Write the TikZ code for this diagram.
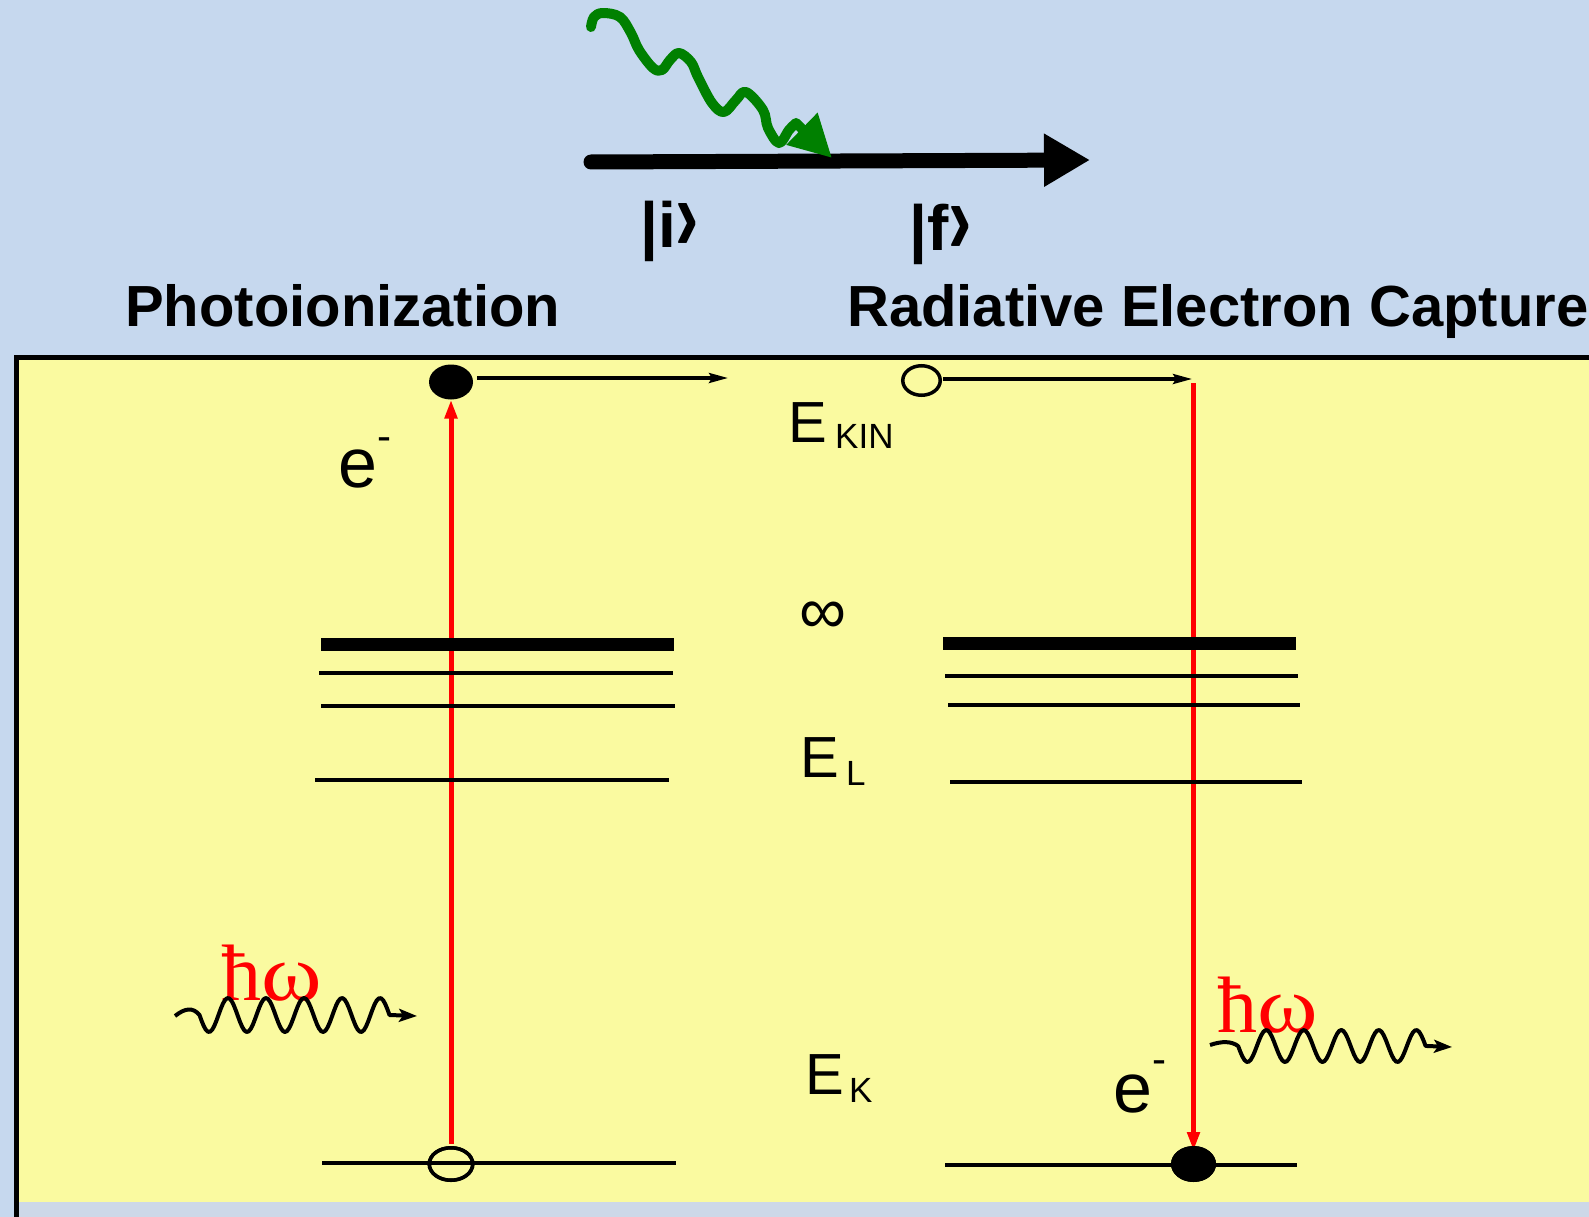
\documentclass[tikz,border=0pt]{standalone}
\usepackage{fontspec}
\setmainfont{Liberation Sans}
\newfontfamily\hbarfont{Liberation Serif}
\usetikzlibrary{arrows.meta,shapes.geometric}
\newcommand{\fsz}[1]{\fontsize{#1}{#1}\selectfont}
\newcommand{\chev}{\raisebox{-3pt}{\scalebox{1.1}[1.6]{›}}}
\newcommand{\hbaromega}{ħ\scalebox{1.15}[1]{ω}}
\definecolor{skyblue}{RGB}{198,216,238}
\definecolor{padyellow}{RGB}{250,250,160}
\definecolor{stripblue}{RGB}{205,216,232}
\definecolor{wavegreen}{RGB}{0,128,0}

\begin{document}
\begin{tikzpicture}[x=1pt, y=-1pt,
    txt/.style={inner sep=0pt, anchor=base west},
    title/.style={txt, font=\fsz{58}\bfseries},
    ket/.style={txt, font=\fsz{64}\bfseries},
    elabel/.style={txt, font=\fsz{58}},
    sublabel/.style={txt, font=\fsz{35}},
    minus/.style={txt, font=\fsz{42}},
    hw/.style={txt, font=\hbarfont\fsz{80}, text=red},
    level/.style={line width=4pt},
    contin/.style={line width=13pt},
    elec/.style={ellipse, fill=black, inner sep=0pt, outer sep=0pt},
    hole/.style={ellipse, draw=black, line width=3.5pt, inner sep=0pt, outer sep=0pt},
    kin/.style={line width=3.3pt, -{Stealth[length=19pt,width=10pt,inset=3pt]}},
    trans/.style={red, line width=5pt, -{Triangle[length=19pt,width=12pt]}},
    photon/.style={line width=4pt, line join=round, -{Stealth[length=18pt,width=13pt,inset=4pt]}},
  ]
    % background and panel
    \fill[skyblue] (0,0) rectangle (1589,1217);
    \useasboundingbox (0,0) rectangle (1589,1217);
    \fill[padyellow] (16,357.5) rectangle (1589,1202);
    \fill[stripblue] (16,1202) rectangle (1589,1217);
    \draw[line width=5pt] (16,1217) -- (16,357.5) -- (1589,357.5);

    % time line |i> -> |f>
    \coordinate (tstart) at (591,162);
    \coordinate (tend)   at (1090,160);
    \draw[line width=15pt, line cap=round, -{Triangle[length=46pt,width=50pt]}] (tstart) -- (tend);
    \draw[wavegreen, line width=10pt, line cap=round, line join=round,
          -{Triangle[length=42pt,width=42pt]}]
      plot[smooth, tension=0.6] coordinates {(591,27) (594,17) (603,13) (620,17) (631,33)
        (639,50) (653,68) (662,70) (670,60) (679,53) (691,62) (698,77) (712,103)
        (724,112) (736,100) (746,92) (763,110) (768,128) (779,143) (789,130) (796,123)}
      -- (832,158);
    \node[ket] (ini) at (640,247) {|i\chev};
    \node[ket] (fin) at (909,250) {|f\chev};

    \node[title] (pi)  at (125,326) {Photoionization};
    \node[title] (rec) at (847,326) {Radiative Electron Capture};

    % red transitions
    \node[hole, minimum width=43.5pt, minimum height=32.5pt] (vacK) at (451,1164) {};
    \node[elec, minimum width=44pt, minimum height=35pt] (ion) at (451,382) {};
    \coordinate (kinL) at (728,378);
    \node[hole, minimum width=37.5pt, minimum height=29.5pt] (capt) at (921.5,380.5) {};
    \coordinate (kinR) at (1192,379);
    \coordinate (capR) at (1193.5,383);
    \node[elec, minimum width=45pt, minimum height=36pt] (bound) at (1193.5,1164) {};

    \draw[trans, shorten <=4pt] (vacK.north) -- (ion.south);
    \draw[trans, shorten >=-5pt] (capR) -- (bound.north);

    % levels, photoionization
    \draw[contin] (321,644.5) -- (674,644.5);
    \draw[level] (319,673) -- (673,673);
    \draw[level] (321,706) -- (675,706);
    \draw[level] (315,780) -- (669,780);
    \draw[level] (322,1163) -- (676,1163);
    % levels, capture
    \draw[contin] (943,643) -- (1296,643);
    \draw[level] (945,676) -- (1298,676);
    \draw[level] (948,705) -- (1300,705);
    \draw[level] (950,782) -- (1302,782);
    \draw[level] (945,1165) -- (1297,1165);

    \node[hole, minimum width=43.5pt, minimum height=32.5pt] at (vacK) {};
    \node[elec, minimum width=45pt, minimum height=36pt] at (bound) {};

    \draw[kin, shorten <=4pt] (ion.east |- kinL) -- (kinL);
    \draw[kin, shorten <=3pt] (capt.east |- kinR) -- (kinR);

    % energy labels
    \node[elabel] (ekin) at (788,442) {E};
    \node[sublabel] at (835,448) {KIN};
    \node[inner sep=0pt, font=\fsz{66}] (inf) at (823,618) {∞};
    \node[elabel] (el) at (800,777) {E};
    \node[sublabel] at (846,785) {L};
    \node[elabel] (ek) at (805,1094) {E};
    \node[sublabel] at (849,1102) {K};

    \node[txt, font=\fsz{70}] (eL) at (338,487) {e};
    \node[minus] at (377,450) {-};
    \node[txt, font=\fsz{70}] (eR) at (1113,1112) {e};
    \node[minus] at (1152,1073) {-};

    % photons
    \node[hw] (hwL) at (221,1000) {\hbaromega};
    \node[hw] (hwR) at (1217,1032) {\hbaromega};
    \draw[photon] (175,1016) .. controls (185,1008) and (193,1007) .. (199.5,1015)
      -- plot[domain=199.5:389.5, samples=90] (\x,{1015+17*cos(9.4737*(\x-209))})
      -- (417,1016);
    \draw[photon] (1210,1045) .. controls (1222,1041) and (1231,1041) .. (1238.1,1046)
      -- plot[domain=1238.1:1425.6, samples=90] (\x,{1046+16*cos(9.6*(\x-1247.5))})
      -- (1452,1047);
  \end{tikzpicture}
\end{document}
